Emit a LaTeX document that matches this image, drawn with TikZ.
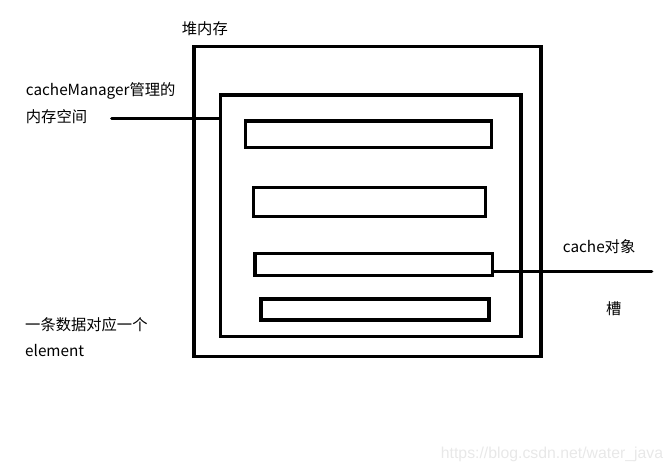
\documentclass[tikz,border=0pt]{standalone}
\usepackage{fontspec}
\setmainfont{Noto Sans CJK SC}
\newfontfamily\markfont{Liberation Sans}
\usepackage{tikz}
\usetikzlibrary{calc}

\begin{document}
\begin{tikzpicture}[x=1pt, y=1pt,
    heap/.style={rectangle, draw=black, line width=3.3pt, inner sep=0pt},
    slot/.style={rectangle, draw=black, line width=3.3pt, inner sep=0pt},
    wire/.style={line width=3.3pt, line cap=round},
    label/.style={anchor=base west, inner sep=0pt, font=\fontsize{15.3}{18}\selectfont}
]
\useasboundingbox (0,0) rectangle (672,472);

% Heap and managed region
\node[heap, minimum width=347pt, minimum height=309.6pt] (heap) at (367.5,270.5) {};
\node[heap, minimum width=300.3pt, minimum height=241.6pt] (region) at (370.8,256.2) {};

% Slots
\node[slot, minimum width=246pt, minimum height=26.3pt] (s1) at (368.6,337.8) {};
\node[slot, minimum width=232pt, minimum height=29pt] (s2) at (369.6,269.9) {};
\node[slot, minimum width=237.3pt, minimum height=22.3pt] (s3) at (373.7,207.5) {};
\node[slot, minimum width=228pt, minimum height=21pt] (s4) at (375,162.5) {};

% Leader lines
\coordinate (mgrend) at (111.7,353.7);
\coordinate (objend) at (651.7,200.3);
\draw[wire] (mgrend) -- (mgrend -| region.west);
\draw[wire] (objend -| s3.east) -- (objend);

% Labels
\node[label] (heaplbl) at (181.7,437.3) {堆内存};
\node[label] (mgr1) at (25.7,376.3) {cacheManager管理的};
\node[label] (mgr2) at (25.7,349.6) {内存空间};
\node[label] (elem1) at (25,141.3) {一条数据对应一个};
\node[label] (elem2) at (25,116) {element};
\node[label] (objlbl) at (562.7,219.6) {cache对象};
\node[label] (slotlbl) at (606,158) {槽};

\node[anchor=base west, inner sep=0pt, text=black!9, font=\markfont\fontsize{15.8}{18}\selectfont] (mark) at (440.7,14) {https://blog.csdn.net/water\_java};

\end{tikzpicture}
\end{document}
